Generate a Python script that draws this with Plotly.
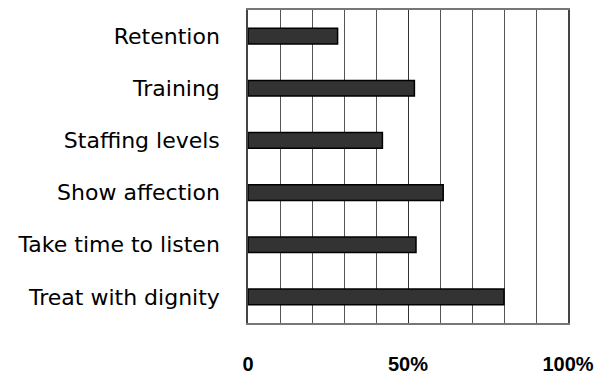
import plotly.graph_objects as go

categories = ["Retention", "Training", "Staffing levels", "Show affection",
              "Take time to listen", "Treat with dignity"]
values = [28, 52, 42, 61, 52.5, 80]
tick_vals = [0, 50, 100]
tick_text = ["0", "50%", "100%"]

fig = go.Figure(go.Bar(
    x=values, y=categories, orientation="h",
    marker=dict(color="#333333", line=dict(color="#000000", width=1.5)),
))

# page body has an 8px default margin, so size the figure to fit the rest
fig.update_layout(
    width=600, height=367,
    margin=dict(l=240, r=40, t=0, b=52),
    paper_bgcolor="white", plot_bgcolor="white",
    bargap=0.7, showlegend=False,
    xaxis=dict(
        range=[0, 100], tickvals=tick_vals, ticktext=tick_text,
        showgrid=True, gridcolor="#333333", gridwidth=1,
        minor=dict(dtick=10, showgrid=True, gridcolor="#555555", gridwidth=1),
        showline=True, linecolor="#777777", linewidth=1.5, mirror=True,
        ticks="", ticklabelstandoff=22, zeroline=False,
        tickfont=dict(family="Liberation Sans", size=20, color="#000000", weight="bold"),
    ),
    yaxis=dict(
        autorange="reversed", showgrid=False,
        showline=True, linecolor="#444444", linewidth=1.5, mirror=True,
        ticks="", ticklabelstandoff=22,
        tickfont=dict(family="DejaVu Sans", size=22, color="#000000"),
    ),
)

fig.write_html("out.html")
